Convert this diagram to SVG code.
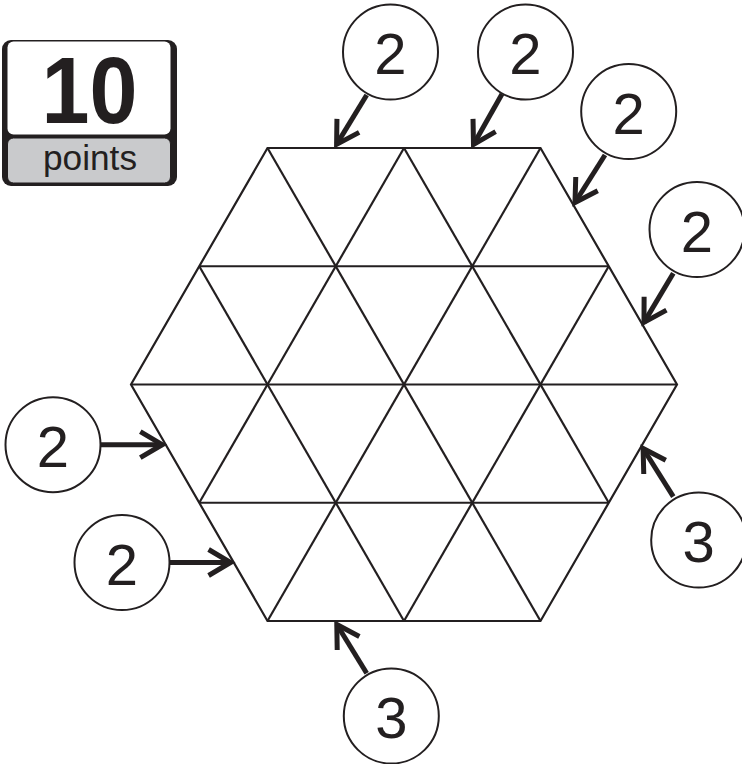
<svg xmlns="http://www.w3.org/2000/svg" width="742" height="764" viewBox="0 0 742 764">
<style>
.grid{fill:none;stroke:#231f20;stroke-width:2.2;stroke-linejoin:miter}
.bub{fill:#fff;stroke:#231f20;stroke-width:2}
.num{font-family:"Liberation Sans",Arial,sans-serif;font-size:58px;fill:#231f20;text-anchor:middle}
.arr{fill:none;stroke:#231f20;stroke-width:5;marker-end:url(#chev)}
</style>
<defs>
<marker id="chev" markerUnits="userSpaceOnUse" markerWidth="60" markerHeight="60" viewBox="-30 -30 60 60" refX="0" refY="0" orient="auto" overflow="visible">
<path d="M-22,-13 L0,0 L-22,13" fill="none" stroke="#231f20" stroke-width="5" stroke-linejoin="miter" stroke-miterlimit="10"/>
</marker>
</defs>
<rect width="742" height="764" fill="#fff"/>

<g id="badge">
<rect x="2" y="40" width="175" height="146" rx="9" fill="#231f20"/>
<rect x="7.5" y="41.5" width="163" height="93" rx="6" fill="#fff"/>
<rect x="7.5" y="138" width="163" height="45" rx="6" fill="#c9cacc" stroke="#231f20" stroke-width="1"/>
<text x="89.5" y="123" font-family="'Liberation Sans',Arial,sans-serif" font-weight="bold" font-size="95" fill="#231f20" text-anchor="middle" textLength="96" lengthAdjust="spacingAndGlyphs">10</text>
<text x="90" y="170" font-family="'Liberation Sans',Arial,sans-serif" font-size="35" fill="#231f20" text-anchor="middle" textLength="94" lengthAdjust="spacingAndGlyphs">points</text>
</g>

<g id="hexagon">
<polygon class="grid" points="267.5,148 540.5,148 677,384.5 540.5,621 267.5,621 131,384.5"/>
<line class="grid" x1="199.25" y1="266.25" x2="608.75" y2="266.25"/>
<line class="grid" x1="131" y1="384.5" x2="677" y2="384.5"/>
<line class="grid" x1="199.25" y1="502.75" x2="608.75" y2="502.75"/>
<line class="grid" x1="267.5" y1="148" x2="540.5" y2="621"/>
<line class="grid" x1="404" y1="148" x2="608.75" y2="502.75"/>
<line class="grid" x1="199.25" y1="266.25" x2="404" y2="621"/>
<line class="grid" x1="540.5" y1="148" x2="267.5" y2="621"/>
<line class="grid" x1="404" y1="148" x2="199.25" y2="502.75"/>
<line class="grid" x1="608.75" y1="266.25" x2="404" y2="621"/>
</g>

<g id="connectors">
<line class="arr" x1="366.7" y1="95" x2="336.6" y2="144.4"/>
<line class="arr" x1="502" y1="94" x2="473.5" y2="144.4"/>
<line class="arr" x1="605" y1="155" x2="575" y2="202.5"/>
<line class="arr" x1="673.3" y1="273.3" x2="644" y2="322.4"/>
<line class="arr" x1="100.5" y1="444.7" x2="162.3" y2="444.7"/>
<line class="arr" x1="169.5" y1="562.5" x2="230.6" y2="562.5"/>
<line class="arr" x1="366.7" y1="673.3" x2="336.8" y2="624.5"/>
<line class="arr" x1="673.3" y1="496.7" x2="643.1" y2="448.5"/>
</g>

<g id="n1"><circle class="bub" cx="390.5" cy="52" r="47.5"/><text class="num" x="390.5" y="74">2</text></g>
<g id="n2"><circle class="bub" cx="525.5" cy="52" r="47.5"/><text class="num" x="525.5" y="74">2</text></g>
<g id="n3"><circle class="bub" cx="628.7" cy="111.5" r="47.5"/><text class="num" x="628.7" y="133.5">2</text></g>
<g id="n4"><circle class="bub" cx="697" cy="229.5" r="47.5"/><text class="num" x="697" y="251.5">2</text></g>
<g id="n5"><circle class="bub" cx="53" cy="444.7" r="47.5"/><text class="num" x="53" y="466.7">2</text></g>
<g id="n6"><circle class="bub" cx="122" cy="562.5" r="47.5"/><text class="num" x="122" y="584.5">2</text></g>
<g id="n7"><circle class="bub" cx="391.3" cy="716" r="47.5"/><text class="num" x="391.3" y="738">3</text></g>
<g id="n8"><circle class="bub" cx="698.7" cy="540" r="47.5"/><text class="num" x="698.7" y="562">3</text></g>
</svg>
